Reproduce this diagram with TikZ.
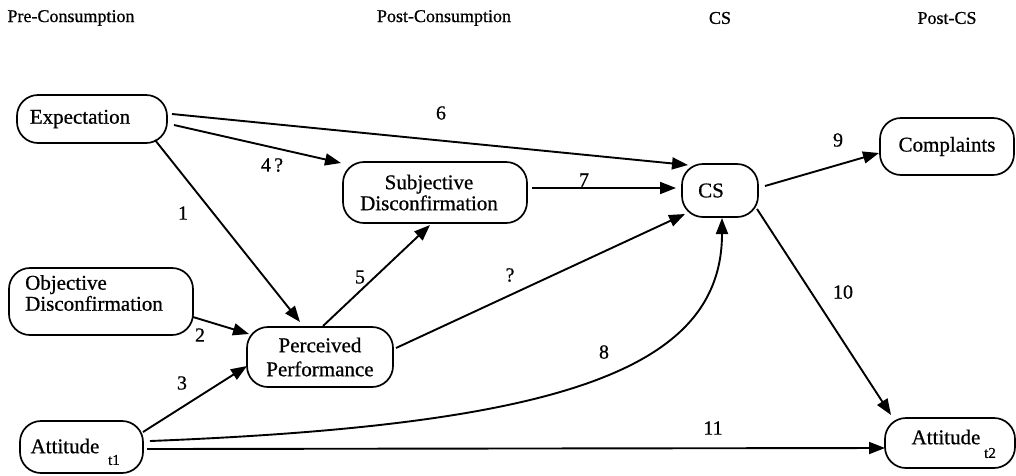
\documentclass[tikz,border=0pt]{standalone}
\usepackage{fontspec}
\setmainfont{Liberation Serif}[FakeBold=0.7]
\usetikzlibrary{arrows.meta,calc}
\begin{document}
\begin{tikzpicture}[x=1pt,y=-1pt,
  box/.style={draw,line width=1.7pt,rounded corners=21pt,align=center,
    inner sep=0pt,font=\fontsize{21}{23}\selectfont},
  head/.style={font=\fontsize{18}{20}\selectfont},
  num/.style={font=\fontsize{20}{22}\selectfont},
  arr/.style={line width=1.9pt,-{Triangle[length=16pt,width=12pt]}},
  sub/.style={font=\fontsize{15}{15}\selectfont,inner sep=0pt}]
\useasboundingbox (0,0) rectangle (1016,475);

% column headings
\node[head] (h1) at (71,18) {Pre-Consumption};
\node[head] (h2) at (444,18) {Post-Consumption};
\node[head] (h3) at (720,18) {CS};
\node[head] (h4) at (947,18) {Post-CS};

% constructs
\node[box,minimum width=150pt,minimum height=48pt] (exp) at (92,119) {\hspace*{-24pt}Expectation};
\node[box,minimum width=184pt,minimum height=67pt] (obj) at (101,301.5) {};
\node[font=\fontsize{21}{21}\selectfont,align=left,anchor=west,inner sep=0pt] (objtxt) at (25,293) {Objective\\Disconfirmation};
\node[box,minimum width=123pt,minimum height=52pt] (att1) at (81.5,447) {};
\node[font=\fontsize{21}{23}\selectfont,inner sep=0pt] (att1txt) at (65,446) {Attitude};
\node[sub] (att1sub) at (114,460) {t1};
\node[box,minimum width=146pt,minimum height=60pt,font=\fontsize{21}{24}\selectfont] (pp) at (320,357) {Perceived\\Performance};
\node[box,minimum width=184pt,minimum height=61pt,font=\fontsize{21}{21}\selectfont] (sd) at (435,192.5) {\hspace*{-12pt}Subjective\\\hspace*{-12pt}Disconfirmation};
\node[box,minimum width=76pt,minimum height=53pt] (cs) at (720,190.5) {\hspace*{-18pt}CS};
\node[box,minimum width=134pt,minimum height=57pt] (comp) at (947,146.5) {Complaints};
\node[box,minimum width=130pt,minimum height=50pt] (att2) at (950,443) {};
\node[font=\fontsize{21}{23}\selectfont,inner sep=0pt] (att2txt) at (946,437) {Attitude};
\node[sub] (att2sub) at (990,453) {t2};

% paths
\draw[arr] ($(exp.center)+(80,-5)$) -- ($(cs.center)+(-32,-25.5)$);
\draw[arr] ($(exp.center)+(82,6)$) -- ($(sd.center)+(-94,-29.5)$);
\draw[arr] ($(exp.center)+(63,21)$) -- ($(pp.center)+(-20,-35)$);
\draw[arr] ($(obj.center)+(92,15.5)$) -- ($(pp.center)+(-71,-23)$);
\draw[arr] ($(att1.center)+(61.5,-15)$) -- ($(pp.center)+(-73,9)$);
\draw[arr] ($(pp.center)+(3,-31)$) -- ($(sd.center)+(-5,32.5)$);
\draw[arr] ($(sd.center)+(97,-4.5)$) -- ($(cs.center)+(-44,-2.5)$);
\draw[arr] ($(pp.center)+(76,-9)$) -- ($(cs.center)+(-35,23.5)$);
\draw[arr] ($(att1.center)+(68.5,-6)$) .. controls (560,425) and (722,370) .. ($(cs.center)+(2,27.5)$);
\draw[arr] ($(cs.center)+(45,-4.5)$) -- ($(comp.center)+(-68,6.5)$);
\draw[arr] ($(cs.center)+(37,18.5)$) -- ($(att2.center)+(-59,-28)$);
\draw[arr] ($(att1.center)+(65.5,2)$) -- ($(att2.center)+(-65,5)$);

% path labels
\node[num] (l6) at (441,113) {6};
\node[num] (l4) at (272,165) {4\,?};
\node[num] (l1) at (183,213) {1};
\node[num] (l2) at (200,335) {2};
\node[num] (l3) at (182,383) {3};
\node[num] (l5) at (360,277) {5};
\node[num] (l7) at (584,180) {7};
\node[num] (lq) at (510,275) {?};
\node[num] (l8) at (604,352) {8};
\node[num] (l9) at (838,140) {9};
\node[num] (l10) at (843,292) {10};
\node[num] (l11) at (713,428) {11};
\end{tikzpicture}
\end{document}
